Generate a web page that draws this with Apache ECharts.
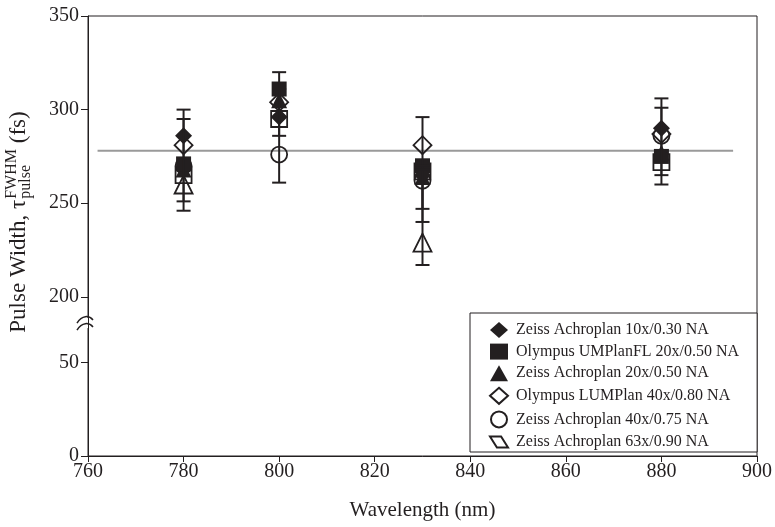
<!DOCTYPE html>
<html><head><meta charset="utf-8">
<script src="https://cdn.jsdelivr.net/npm/echarts@6/dist/echarts.min.js"></script>
<style>html,body{margin:0;padding:0;background:#fff}#c{width:775px;height:527px}</style>
</head><body><div id="c"></div>
<script>
// ---- data ----
const wavelengths   = [780, 800, 830, 880];
const zeiss10x      = [286, 296, 265, 290];   // filled diamond
const olyUMPlan20x  = [271, 311, 270, 275];   // filled square
const zeiss20x      = [268, 305, 264, 277];   // filled triangle
const olyLUMPlan40x = [281, 304, 281, 287];   // open diamond
const zeiss40x      = [270, 276, 262, 286];   // open circle
const zeiss63x      = [260, null, 229, null]; // open triangle
const openSquares   = [265, 295, 267, 272];   // open squares (unlabelled)
// error bars: [wavelength, low, high]
const errLow  = [246, 251, 261, 286, 217, 240, 247, 260, 265];
const errHigh = [300, 295, 320, 311, 296, 270, 268, 306, 301];
const errX    = [780, 780, 800, 800, 830, 830, 830, 880, 880];
const meanValue = 278;
const meanRange = [762, 895];
const yTickValues = [0, 50, 200, 250, 300, 350];
const names = [
  'Zeiss Achroplan 10x/0.30 NA',
  'Olympus UMPlanFL 20x/0.50 NA',
  'Zeiss Achroplan 20x/0.50 NA',
  'Olympus LUMPlan 40x/0.80 NA',
  'Zeiss Achroplan 40x/0.75 NA',
  'Zeiss Achroplan 63x/0.90 NA'
];

// ---- broken y axis transform ----
const BREAK_LOW = 50, BREAK_HIGH = 200, GAP = 35;
const SHIFT = BREAK_LOW + GAP; // where 200 is placed
function t(v) { return v >= BREAK_HIGH ? v - BREAK_HIGH + SHIFT : v; }
function inv(u) { return u > BREAK_LOW + 1 ? Math.round(u - SHIFT + BREAK_HIGH) : Math.round(u); }

const INK = '#231f20';
const FONT = '"Liberation Serif", "Times New Roman", serif';

function pts(arr) {
  const out = [];
  arr.forEach((v, i) => { if (v != null) out.push([wavelengths[i], t(v)]); });
  return out;
}

const filled = { color: INK, opacity: 1 };
const hollow = { color: 'rgba(0,0,0,0)', borderColor: INK, borderWidth: 1.8, opacity: 1 };

const chart = echarts.init(document.getElementById('c'), null, { renderer: 'canvas' });

const series = [
  { name: '__open_sq', type: 'scatter', symbol: 'rect', symbolSize: 16, data: pts(openSquares), itemStyle: hollow, z: 2 },
  { name: names[5], type: 'scatter', symbol: 'triangle', symbolSize: 18, data: pts(zeiss63x), itemStyle: hollow, z: 2 },
  { name: names[4], type: 'scatter', symbol: 'circle', symbolSize: 16, data: pts(zeiss40x), itemStyle: hollow, z: 2 },
  { name: names[3], type: 'scatter', symbol: 'diamond', symbolSize: 18, data: pts(olyLUMPlan40x), itemStyle: hollow, z: 2 },
  { name: names[2], type: 'scatter', symbol: 'triangle', symbolSize: 16, data: pts(zeiss20x), itemStyle: filled, z: 3 },
  { name: names[1], type: 'scatter', symbol: 'rect', symbolSize: 15, data: pts(olyUMPlan20x), itemStyle: filled, z: 3 },
  { name: names[0], type: 'scatter', symbol: 'diamond', symbolSize: 17, data: pts(zeiss10x), itemStyle: filled, z: 4 },
  {
    name: '__mean', type: 'line', data: meanRange.map(x => [x, t(meanValue)]),
    symbol: 'none', lineStyle: { color: '#9a9a9a', width: 2 }, z: 1, silent: true
  },
  {
    name: '__err', type: 'custom', z: 5, silent: true,
    data: errX.map((x, i) => [x, t(errLow[i]), t(errHigh[i])]),
    encode: { x: 0, y: [1, 2] },
    renderItem: function (params, api) {
      const lo = api.coord([api.value(0), api.value(1)]);
      const hi = api.coord([api.value(0), api.value(2)]);
      const hw = 7;
      const st = { stroke: INK, lineWidth: 2 };
      return {
        type: 'group', children: [
          { type: 'line', shape: { x1: lo[0], y1: lo[1], x2: hi[0], y2: hi[1] }, style: st },
          { type: 'line', shape: { x1: lo[0] - hw, y1: lo[1], x2: lo[0] + hw, y2: lo[1] }, style: st },
          { type: 'line', shape: { x1: hi[0] - hw, y1: hi[1], x2: hi[0] + hw, y2: hi[1] }, style: st }
        ]
      };
    }
  }
];

const legendData = names.map((n, i) => i === 5 ? { name: n, icon: 'path://M0,0 L16,0 L26,16 L10,16 Z' } : { name: n });

chart.setOption({
  animation: false,
  backgroundColor: '#fff',
  grid: { left: 88, right: 12, top: 16, bottom: 71, show: true, borderColor: INK, borderWidth: 1 },
  xAxis: {
    type: 'value', min: 760, max: 900, interval: 20,
    name: 'Wavelength (nm)', nameLocation: 'middle', nameGap: 44,
    nameTextStyle: { fontFamily: FONT, fontSize: 21, color: INK },
    axisLine: { lineStyle: { color: INK, width: 1 } },
    axisTick: { inside: false, length: 6, lineStyle: { color: INK } },
    axisLabel: { fontFamily: FONT, fontSize: 20, color: INK, margin: 6 },
    splitLine: { show: false }
  },
  yAxis: {
    type: 'value', min: 0, max: t(350),
    axisLine: { lineStyle: { color: INK, width: 1 } },
    axisTick: { length: 7, lineStyle: { color: INK }, customValues: yTickValues.map(t) },
    axisLabel: { fontFamily: FONT, fontSize: 20, color: INK, margin: 9, customValues: yTickValues.map(t), formatter: v => String(inv(v)) },
    splitLine: { show: false }
  },
  legend: {
    orient: 'vertical', left: 470, top: 313,
    data: legendData,
    itemWidth: 18, itemHeight: 16, itemGap: 5.6,
    borderColor: INK, borderWidth: 1, borderRadius: 0,
    padding: [9, 18, 2, 19],
    backgroundColor: '#fff',
    textStyle: { fontFamily: FONT, fontSize: 16, color: INK, padding: [0, 0, 0, 3] },
    selectedMode: false
  },
  series: series
});

// ---- axis break mark & y-axis title ----
function measure(txt, size) {
  const c = document.createElement('canvas').getContext('2d');
  c.font = size + 'px ' + FONT;
  return c.measureText(txt).width;
}
const bx = chart.convertToPixel({ xAxisIndex: 0 }, 760);
const by = chart.convertToPixel({ yAxisIndex: 0 }, 71);

const TS = 23, SS = 16;
const s1 = 'Pulse Width, \u03C4', s2 = ' (fs)';
const w1 = measure(s1, TS), wSup = measure('FWHM', SS), wSub = measure('pulse', SS), w2 = measure(s2, TS);
const ws = Math.max(wSup, wSub) + 1;
const total = w1 + ws + w2;
const x0 = -total / 2;
const ts = (txt, size) => ({ text: txt, font: size + 'px ' + FONT, fill: INK, textAlign: 'left', textVerticalAlign: 'middle', align: 'left', verticalAlign: 'middle' });
const curve = (dy) => ({
  type: 'bezierCurve',
  shape: { x1: -11, y1: dy + 4, cpx1: -6, cpy1: dy - 4, cpx2: 1, cpy2: dy - 4, x2: 5, y2: dy + 1 },
  style: { stroke: INK, lineWidth: 1.5, fill: null }
});

chart.setOption({
  graphic: [
    {
      type: 'group', x: bx, y: by, z: 100, children: [
        { type: 'rect', shape: { x: -2, y: -5, width: 4, height: 10 }, style: { fill: '#fff' } },
        curve(-4),
        curve(3)
      ]
    },
    {
      type: 'group', x: 19, y: 222, rotation: Math.PI / 2, z: 100, children: [
        { type: 'text', x: x0, y: 0, style: ts(s1, TS) },
        { type: 'text', x: x0 + w1 + 1, y: -7, style: ts('FWHM', SS) },
        { type: 'text', x: x0 + w1 + 1, y: 7, style: ts('pulse', SS) },
        { type: 'text', x: x0 + w1 + ws, y: 0, style: ts(s2, TS) }
      ]
    }
  ]
});
</script></body></html>
